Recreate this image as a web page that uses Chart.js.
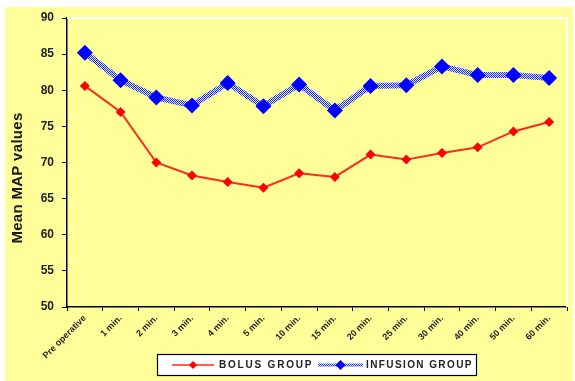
<!DOCTYPE html>
<html>
<head>
<meta charset="utf-8">
<script src="https://cdn.jsdelivr.net/npm/chart.js@4/dist/chart.umd.min.js"></script>
<style>
  html, body { margin: 0; padding: 0; background: #ffffff; }
  #wrap { width: 575px; height: 381px; position: relative; }
</style>
</head>
<body>
<div id="wrap"><canvas id="c" width="575" height="381"></canvas></div>
<script>
// Time points of measurement
const categories = ['Pre operative', '1 min.', '2 min.', '3 min.', '4 min.', '5 min.', '10 min.',
  '15 min.', '20 min.', '25 min.', '30 min.', '40 min.', '50 min.', '60 min.'];

// Mean arterial pressure per group
const bolusGroup = [80.6, 77.0, 70.0, 68.2, 67.3, 66.5, 68.5, 68.0, 71.1, 70.4, 71.3, 72.1, 74.3, 75.6];
const infusionGroup = [85.2, 81.4, 79.0, 77.9, 81.0, 77.8, 80.8, 77.2, 80.6, 80.7, 83.3, 82.1, 82.1, 81.7];

const seriesLabels = ['BOLUS GROUP', 'INFUSION GROUP'];
const yTicks = [50, 55, 60, 65, 70, 75, 80, 85, 90];
const yTitle = 'Mean MAP values';

// Checkered stroke for the infusion line
function checkerPattern() {
  const p = document.createElement('canvas');
  p.width = 2; p.height = 2;
  const g = p.getContext('2d');
  g.fillStyle = '#e4eaff'; g.fillRect(0, 0, 2, 2);
  g.fillStyle = '#1a2cf0'; g.fillRect(0, 0, 1, 1); g.fillRect(1, 1, 1, 1);
  return g.createPattern(p, 'repeat');
}

const ctx = document.getElementById('c').getContext('2d');

const backdrop = {
  id: 'backdrop',
  beforeDraw(chart) {
    const c = chart.ctx;
    c.save();
    c.fillStyle = '#ffffff';
    c.fillRect(0, 0, chart.width, chart.height);
    c.fillStyle = '#ffff99';
    c.fillRect(5, 7, 568, 374);
    c.restore();
  },
  beforeDatasetsDraw(chart) {
    const a = chart.chartArea;
    const c = chart.ctx;
    c.save();
    c.strokeStyle = '#ffffff';
    c.lineWidth = 2;
    c.beginPath();
    c.moveTo(a.left, a.top);
    c.lineTo(a.right, a.top);
    c.lineTo(a.right, a.bottom);
    c.stroke();
    c.restore();
  },
  afterDraw(chart) {
    const c = chart.ctx;
    c.save();
    // axis title
    c.translate(18, 178);
    c.rotate(-Math.PI / 2);
    c.font = 'bold 15px "Liberation Sans", Arial, sans-serif';
    c.letterSpacing = '0.3px';
    c.fillStyle = '#1a1a1a';
    c.textAlign = 'center';
    c.textBaseline = 'middle';
    c.fillText(yTitle, 0, 0);
    c.restore();

    // legend box
    c.save();
    c.fillStyle = '#ffffff';
    c.fillRect(157, 354, 320, 21);
    c.strokeStyle = '#000000';
    c.lineWidth = 1.2;
    c.strokeRect(157.5, 354.5, 319, 21);
    const y = 365;
    const items = [
      { x0: 172, x1: 214, tx: 219, spacing: '1.8px' },
      { x0: 318, x1: 363, tx: 366, spacing: '1.4px' }
    ];
    chart.data.datasets.forEach((ds, i) => {
      const it = items[i];
      c.strokeStyle = ds.borderColor;
      c.lineWidth = i === 0 ? 1.5 : 3;
      c.beginPath();
      c.moveTo(it.x0, y);
      c.lineTo(it.x1, y);
      c.stroke();
      const mx = (it.x0 + it.x1) / 2;
      const r = i === 0 ? 4 : 5;
      c.fillStyle = ds.pointBackgroundColor;
      c.beginPath();
      c.moveTo(mx, y - r); c.lineTo(mx + r, y); c.lineTo(mx, y + r); c.lineTo(mx - r, y);
      c.closePath();
      c.fill();
      c.fillStyle = '#222222';
      c.font = 'bold 10px "Liberation Sans", Arial, sans-serif';
      c.letterSpacing = it.spacing;
      c.textAlign = 'left';
      c.textBaseline = 'middle';
      c.fillText(ds.label, it.tx, y + 0.5);
    });
    c.restore();
  }
};

new Chart(ctx, {
  type: 'line',
  data: {
    labels: categories,
    datasets: [
      {
        label: seriesLabels[0],
        data: bolusGroup,
        borderColor: '#ff2a1a',
        backgroundColor: '#ff0000',
        pointBackgroundColor: '#ff0000',
        pointBorderColor: '#ff0000',
        borderWidth: 2,
        pointStyle: 'rectRot',
        pointRadius: 5,
        pointBorderWidth: 0,
        tension: 0
      },
      {
        label: seriesLabels[1],
        data: infusionGroup,
        borderColor: checkerPattern(),
        backgroundColor: '#0000ff',
        pointBackgroundColor: '#0000ff',
        pointBorderColor: '#0000ff',
        borderWidth: 6,
        pointStyle: 'rectRot',
        pointRadius: 8,
        pointBorderWidth: 0,
        tension: 0
      }
    ]
  },
  plugins: [backdrop],
  options: {
    responsive: false,
    animation: false,
    events: [],
    layout: { padding: { left: 0, top: 18, right: 3, bottom: 0 } },
    plugins: {
      legend: { display: false },
      tooltip: { enabled: false }
    },
    scales: {
      x: {
        type: 'category',
        offset: true,
        afterFit(s) { s.height = 74; },
        grid: {
          offset: true,
          drawOnChartArea: false,
          drawTicks: true,
          tickLength: 4,
          color: '#000000',
          lineWidth: 1
        },
        border: { display: true, color: '#000000', width: 1.5 },
        ticks: {
          autoSkip: false,
          minRotation: 45,
          maxRotation: 45,
          padding: 2,
          color: '#222222',
          font: { family: '"Liberation Sans", Arial, sans-serif', size: 9, weight: 'bold' }
        }
      },
      y: {
        min: 50,
        max: 90,
        afterFit(s) { s.width = 67; },
        afterBuildTicks(s) { s.ticks = yTicks.map(v => ({ value: v })); },
        grid: {
          drawOnChartArea: false,
          drawTicks: true,
          tickLength: 5,
          color: '#000000',
          lineWidth: 1
        },
        border: { display: true, color: '#000000', width: 1.5 },
        ticks: {
          padding: 8,
          color: '#222222',
          font: { family: '"Liberation Sans", Arial, sans-serif', size: 12, weight: 'bold' }
        }
      }
    }
  }
});
</script>
</body>
</html>
